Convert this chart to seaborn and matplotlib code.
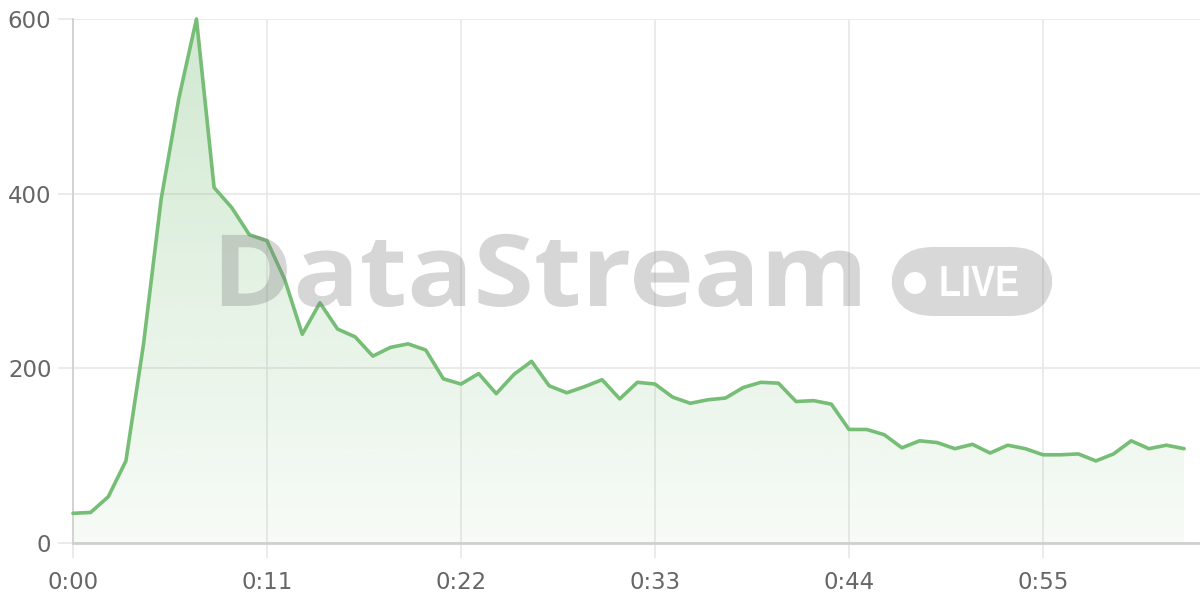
import numpy as np
import pandas as pd
import matplotlib
matplotlib.use("Agg")
import matplotlib.pyplot as plt
import seaborn as sns
from matplotlib.patches import PathPatch, FancyBboxPatch, Circle
from matplotlib.patheffects import AbstractPathEffect
from matplotlib.transforms import Affine2D

# ---- data ----
seconds = list(range(64))
values = [34, 35, 53, 94, 228, 394, 509, 600, 407, 384,
          353, 346, 302, 239, 275, 245, 236, 214, 224, 228,
          221, 188, 182, 194, 171, 193, 208, 180, 172, 179,
          187, 165, 184, 182, 167, 160, 164, 166, 178, 184,
          183, 162, 163, 159, 130, 130, 124, 109, 117, 115,
          108, 113, 103, 112, 108, 101, 101, 102, 94, 102,
          117, 108, 112, 108]
x_ticks = [0, 11, 22, 33, 44, 55]
x_tick_labels = ["0:00", "0:11", "0:22", "0:33", "0:44", "0:55"]
y_ticks = [0, 200, 400, 600]
y_tick_labels = ["0", "200", "400", "600"]
watermark = "DataStream"
badge = "LIVE"

df = pd.DataFrame({"t": seconds, "v": values})


class Squeeze(AbstractPathEffect):
    """Horizontal scaling of a text's glyphs around a fixed display x."""
    def __init__(self, sx, x0):
        super().__init__()
        self.sx = sx
        self.x0 = x0

    def draw_path(self, renderer, gc, tpath, affine, rgbFace=None):
        t = affine + Affine2D().translate(-self.x0, 0).scale(self.sx, 1).translate(self.x0, 0)
        renderer.draw_path(gc, tpath, t, rgbFace)


sns.set_theme(style="white")
plt.rcParams["font.family"] = ["DejaVu Sans"]

W, H = 1200, 600
fig = plt.figure(figsize=(12, 6), dpi=100)
ax = fig.add_axes([73 / W, (H - 543) / H, (W - 73) / W, (543 - 19) / H])

green = (118 / 255, 189 / 255, 118 / 255)

# gradient fill under the line
poly = ax.fill_between(df["t"], df["v"], 0, color="none", lw=0)
path = poly.get_paths()[0]
clip = PathPatch(path, transform=ax.transData, facecolor="none", edgecolor="none")
ax.add_patch(clip)
n = 256
grad = np.zeros((n, 1, 4))
grad[:, 0, 0] = green[0]
grad[:, 0, 1] = green[1]
grad[:, 0, 2] = green[2]
grad[:, 0, 3] = np.linspace(0.06, 0.34, n)
im = ax.imshow(grad, extent=[0, max(seconds), 0, 600], origin="lower",
               aspect="auto", zorder=1, interpolation="bilinear")
im.set_clip_path(clip)

# line
sns.lineplot(data=df, x="t", y="v", ax=ax, color=green, lw=2.6, zorder=4,
             clip_on=False)

ax.set_xlim(0, (W - 73) / ((267 - 73) / 11))
ax.set_ylim(0, 600)
ax.set_xlabel("")
ax.set_ylabel("")
ax.set_xticks(x_ticks)
ax.set_xticklabels(x_tick_labels)
ax.set_yticks(y_ticks)
ax.set_yticklabels(y_tick_labels)

grid_c = "#e6e6e6"
ax.grid(True, color=grid_c, lw=1.1, zorder=0)
ax.set_axisbelow(True)
for s in ["top", "right"]:
    ax.spines[s].set_visible(False)
ax.spines["left"].set_color("#d0d0d0")
ax.spines["left"].set_linewidth(1.3)
ax.spines["bottom"].set_color("#cfcfcf")
ax.spines["bottom"].set_linewidth(2.0)
ax.tick_params(axis="both", which="major", length=11, width=1.1, color=grid_c,
               labelcolor="#666666", labelsize=16.5, direction="out")
ax.tick_params(axis="y", pad=4.5, left=True)
ax.tick_params(axis="x", pad=9, bottom=True)

# watermark
wm_color = (0.5, 0.5, 0.5)
t = fig.text(212 / W, (H - 306) / H, watermark, fontsize=78, fontweight="bold",
             family=["Open Sans", "DejaVu Sans"], color=wm_color, alpha=0.32,
             ha="left", va="baseline", zorder=3)
fig.canvas.draw()
bb = t.get_window_extent()
t.set_fontsize(78 * 0.92)
t.set_path_effects([Squeeze(656 / (bb.width * 0.92), 212)])

bx0, by0, bx1, by1 = 891, 247, 1053, 316
box = FancyBboxPatch((bx0 / W, (H - by1) / H), (bx1 - bx0) / W, (by1 - by0) / H,
                     boxstyle="round,pad=0,rounding_size=0.035",
                     transform=fig.transFigure, facecolor=wm_color, alpha=0.3,
                     edgecolor="none", zorder=3, mutation_aspect=2)
fig.add_artist(box)
circ = Circle((915 / 100, (H - 283) / 100), 11 / 100, transform=fig.dpi_scale_trans,
              facecolor="white", edgecolor="none", zorder=3.5)
fig.add_artist(circ)
lt = fig.text(939 / W, (H - 296) / H, badge, fontsize=31.5, fontweight="bold",
              family=["Liberation Sans", "DejaVu Sans"],
              color="white", ha="left", va="baseline", zorder=3.5)
fig.canvas.draw()
bb2 = lt.get_window_extent()
lt.set_path_effects([Squeeze(80 / bb2.width, 939)])

fig.savefig("out.png", dpi=100)
